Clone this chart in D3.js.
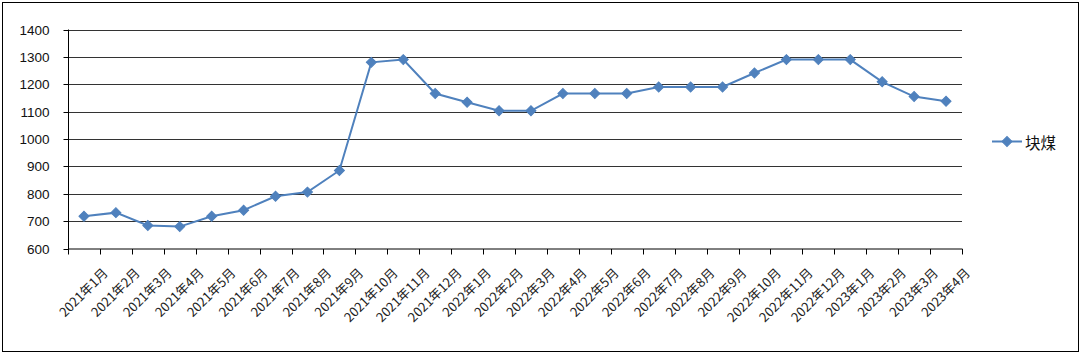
<!DOCTYPE html>
<html><head><meta charset="utf-8">
<script src="https://cdn.jsdelivr.net/npm/d3@7"></script>
<style>
html,body{margin:0;padding:0;background:#fff;}
svg{display:block;}
</style></head>
<body>
<svg id="chart" width="1080" height="353"></svg>
<script>
const categories = ["2021年1月","2021年2月","2021年3月","2021年4月","2021年5月","2021年6月","2021年7月","2021年8月","2021年9月","2021年10月","2021年11月","2021年12月","2022年1月","2022年2月","2022年3月","2022年4月","2022年5月","2022年6月","2022年7月","2022年8月","2022年9月","2022年10月","2022年11月","2022年12月","2023年1月","2023年2月","2023年3月","2023年4月"];
const seriesName = "块煤";
const values = [718,731,684,680,718,740,791,806,885,1280,1290,1166,1134,1103,1103,1166,1166,1166,1190,1190,1190,1241,1290,1290,1290,1209,1155,1138];
const yTicks = [600,700,800,900,1000,1100,1200,1300,1400];

(function(){
const svg = d3.select("#chart");
const pLeft = 68, pRight = 962, pTop = 29.5, pBottom = 248.5;
const color = "#4F81BD";

svg.append("rect").attr("x",2.5).attr("y",2.5).attr("width",1076).attr("height",349)
  .attr("fill","#fff").attr("stroke","#000").attr("stroke-width",1);

const x = d3.scaleBand().domain(categories).range([pLeft,pRight]).padding(0);
const y = d3.scaleLinear().domain([600,1400]).range([pBottom,pTop]);

// gridlines
svg.append("g").selectAll("line").data(yTicks.filter(d=>d>600)).join("line")
  .attr("x1",pLeft).attr("x2",pRight)
  .attr("y1",d=>Math.round(y(d))+0.5).attr("y2",d=>Math.round(y(d))+0.5)
  .attr("stroke","#333").attr("stroke-width",1);

// y axis
const yAxis = svg.append("g").attr("transform",`translate(${pLeft+0.5},0)`)
  .call(d3.axisLeft(y).tickValues(yTicks).tickSize(5).tickPadding(14).tickFormat(d3.format("d")));
yAxis.selectAll("text").attr("font-family","Liberation Sans, Arial, sans-serif").attr("font-size","13.5px").attr("fill","#111");
yAxis.selectAll("line,path").attr("stroke","#000");
yAxis.select("path").attr("d",`M0,${pTop}V${pBottom+0.5}`);
yAxis.selectAll(".tick").attr("transform",d=>`translate(0,${Math.round(y(d))+0.5})`);

// x axis
const xg = svg.append("g");
xg.append("line").attr("x1",pLeft).attr("x2",pRight+0.5).attr("y1",pBottom+0.5).attr("y2",pBottom+0.5).attr("stroke","#000");
const bounds = categories.map(c=>x(c)).concat([pRight]);
xg.selectAll("line.tk").data(bounds).join("line").attr("class","tk")
  .attr("x1",d=>Math.round(d)+0.5).attr("x2",d=>Math.round(d)+0.5)
  .attr("y1",pBottom+0.5).attr("y2",pBottom+6).attr("stroke","#000");

const labels = xg.selectAll("text.lbl").data(categories).join("text").attr("class","lbl")
  .attr("font-family","Noto Sans CJK SC, sans-serif").attr("font-size","13px").attr("fill","#222")
  .attr("text-anchor","middle").attr("dominant-baseline","central")
  .text(d=>d);
labels.each(function(d){
  const L = this.getComputedTextLength();
  const cx = x(d) + x.bandwidth()/2 - 1;
  const cy = 270 + L*0.3536;
  d3.select(this).attr("transform",`translate(${cx},${cy}) rotate(-45)`);
});

// line
const line = d3.line().x((d,i)=>x(categories[i])+x.bandwidth()/2).y(d=>y(d));
svg.append("path").datum(values).attr("d",line).attr("fill","none").attr("stroke",color).attr("stroke-width",2);

svg.append("g").selectAll("path").data(values).join("path")
  .attr("d", d3.symbol().type(d3.symbolSquare).size(50))
  .attr("transform",(d,i)=>`translate(${x(categories[i])+x.bandwidth()/2},${y(d)}) rotate(45)`)
  .attr("fill",color).attr("stroke",color).attr("stroke-width",1);

// legend
const lg = svg.append("g");
lg.append("line").attr("x1",992).attr("x2",1022).attr("y1",141.5).attr("y2",141.5).attr("stroke",color).attr("stroke-width",2);
lg.append("path").attr("d", d3.symbol().type(d3.symbolSquare).size(50)).attr("transform","translate(1007,141.5) rotate(45)").attr("fill",color).attr("stroke",color);
lg.append("text").attr("x",1025).attr("y",141.5).attr("dominant-baseline","central")
  .attr("font-family","Noto Sans CJK SC, sans-serif").attr("font-size","15.5px").attr("fill","#111").text(seriesName);
})();
</script>
</body></html>
